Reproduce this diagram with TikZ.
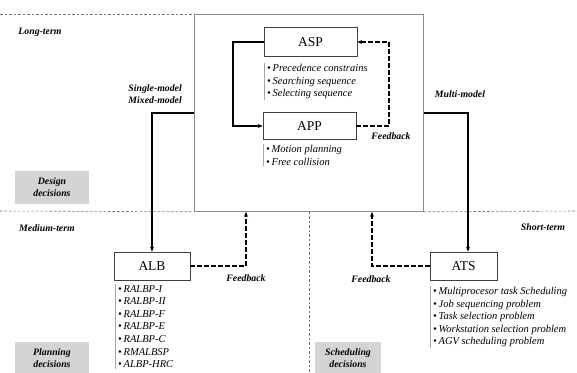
\documentclass[tikz,border=0pt]{standalone}
\usepackage{fontspec}
\setmainfont{Liberation Serif}
\usetikzlibrary{arrows.meta}
\begin{document}
\begin{tikzpicture}[x=1pt,y=-1pt,
  stage/.style={draw=black!45,line width=0.8pt,inner sep=0pt,minimum width=229pt,minimum height=197pt},
  task/.style={draw=black!75,line width=0.6pt,fill=white,inner sep=0pt,font=\fontsize{13.5}{15}\selectfont},
  conn/.style={line width=1.3pt,-{Stealth[length=5pt,width=4pt]}},
  fb/.style={line width=1.3pt,dash pattern=on 4.5pt off 2.5pt,-{Stealth[length=5pt,width=4pt]}},
  divider/.style={draw=black!55,line width=0.6pt,dash pattern=on 2.5pt off 2pt},
  tag/.style={font=\fontsize{9.8}{11.8}\selectfont\bfseries\itshape,inner sep=0pt},
  cat/.style={fill=black!17,inner sep=0pt,align=center,font=\fontsize{9.8}{12}\selectfont\bfseries\itshape},
  items/.style={inner xsep=3pt,inner ysep=1pt,align=left,font=\fontsize{10.5}{12.6}\selectfont\itshape},
  bar/.style={draw=black!35,line width=0.6pt}]
\useasboundingbox (0,0) rectangle (577,372);

% stage frame and horizon dividers
\node[stage,anchor=north west] (big) at (194,14) {};
\draw[divider] (0,14) -- (big.north west);
\draw[divider] (0,211) -- (big.south west);
\draw[divider] (big.south east) -- (577,211);
\draw[divider] (big.south) -- (big.south |- 0,372);

% horizon labels
\node[tag] (lt) at (40,32) {Long-term};
\node[tag] (mt) at (47,228) {Medium-term};
\node[tag] (st) at (543,227) {Short-term};

% decision categories
\node[cat,minimum width=74pt,minimum height=33pt] (dd) at (52,187.5) {Design\\decisions};
\node[cat,minimum width=74pt,minimum height=33pt] (pd) at (52,358.5) {Planning\\decisions};
\node[cat,minimum width=66pt,minimum height=33pt] (sd) at (348,358.5) {Scheduling\\decisions};

% problem boxes
\node[task,minimum width=93pt,minimum height=29pt] (ASP) at (310.5,42) {ASP};
\node[task,minimum width=93pt,minimum height=27pt] (APP) at (309.5,126) {APP};
\node[task,minimum width=76pt,minimum height=28pt] (ALB) at (152,266) {ALB};
\node[task,minimum width=67pt,minimum height=28pt] (ATS) at (463.5,266) {ATS};

% problem variants
\node[items,anchor=north west] (asplist) at (264,63) {\textbullet\,Precedence constrains\\\textbullet\,Searching sequence\\\textbullet\,Selecting sequence};
\draw[bar] (asplist.north west) -- (asplist.south west);
\node[items,anchor=north west] (applist) at (263,144) {\textbullet\,Motion planning\\\textbullet\,Free collision};
\draw[bar] (applist.north west) -- (applist.south west);
\node[items,anchor=north west] (alblist) at (115,284) {\textbullet\,RALBP-I\\\textbullet\,RALBP-II\\\textbullet\,RALBP-F\\\textbullet\,RALBP-E\\\textbullet\,RALBP-C\\\textbullet\,RMALBSP\\\textbullet\,ALBP-HRC};
\draw[bar] (alblist.north west) -- (alblist.south west);
\node[items,anchor=north west] (atslist) at (430,286) {\textbullet\,Multiprocesor task Scheduling\\\textbullet\,Job sequencing problem\\\textbullet\,Task selection problem\\\textbullet\,Workstation selection problem\\\textbullet\,AGV scheduling problem};
\draw[bar] (atslist.north west) -- (atslist.south west);

% model labels
\node[tag,align=right,anchor=east] (smm) at (182,94) {Single-model\\Mixed-model};
\node[tag] (mm) at (460,94) {Multi-model};

% connectors
\coordinate (ml) at (152,113);
\coordinate (mr) at (468,113);
\draw[conn] (big.west |- ml) -- (ml) -- (ALB.north);
\draw[conn] (big.east |- mr) -- (mr) -- (mr |- ATS.north);
\coordinate (la) at (233,0);
\draw[conn] (ASP.west) -- (ASP.west -| la) |- (APP.west);

% feedback loops
\coordinate (ra) at (389,0);
\draw[fb] (APP.east) -- (APP.east -| ra) |- (ASP.east);
\node[tag] (fb1) at (391,136) {Feedback};
\coordinate (fa) at (246,266);
\draw[fb] (ALB.east) -- (fa) -- (fa |- big.south);
\node[tag] (fb2) at (246,278) {Feedback};
\coordinate (fs) at (372,266);
\draw[fb] (ATS.west) -- (fs) -- (fs |- big.south);
\node[tag] (fb3) at (371,279) {Feedback};
\end{tikzpicture}
\end{document}
